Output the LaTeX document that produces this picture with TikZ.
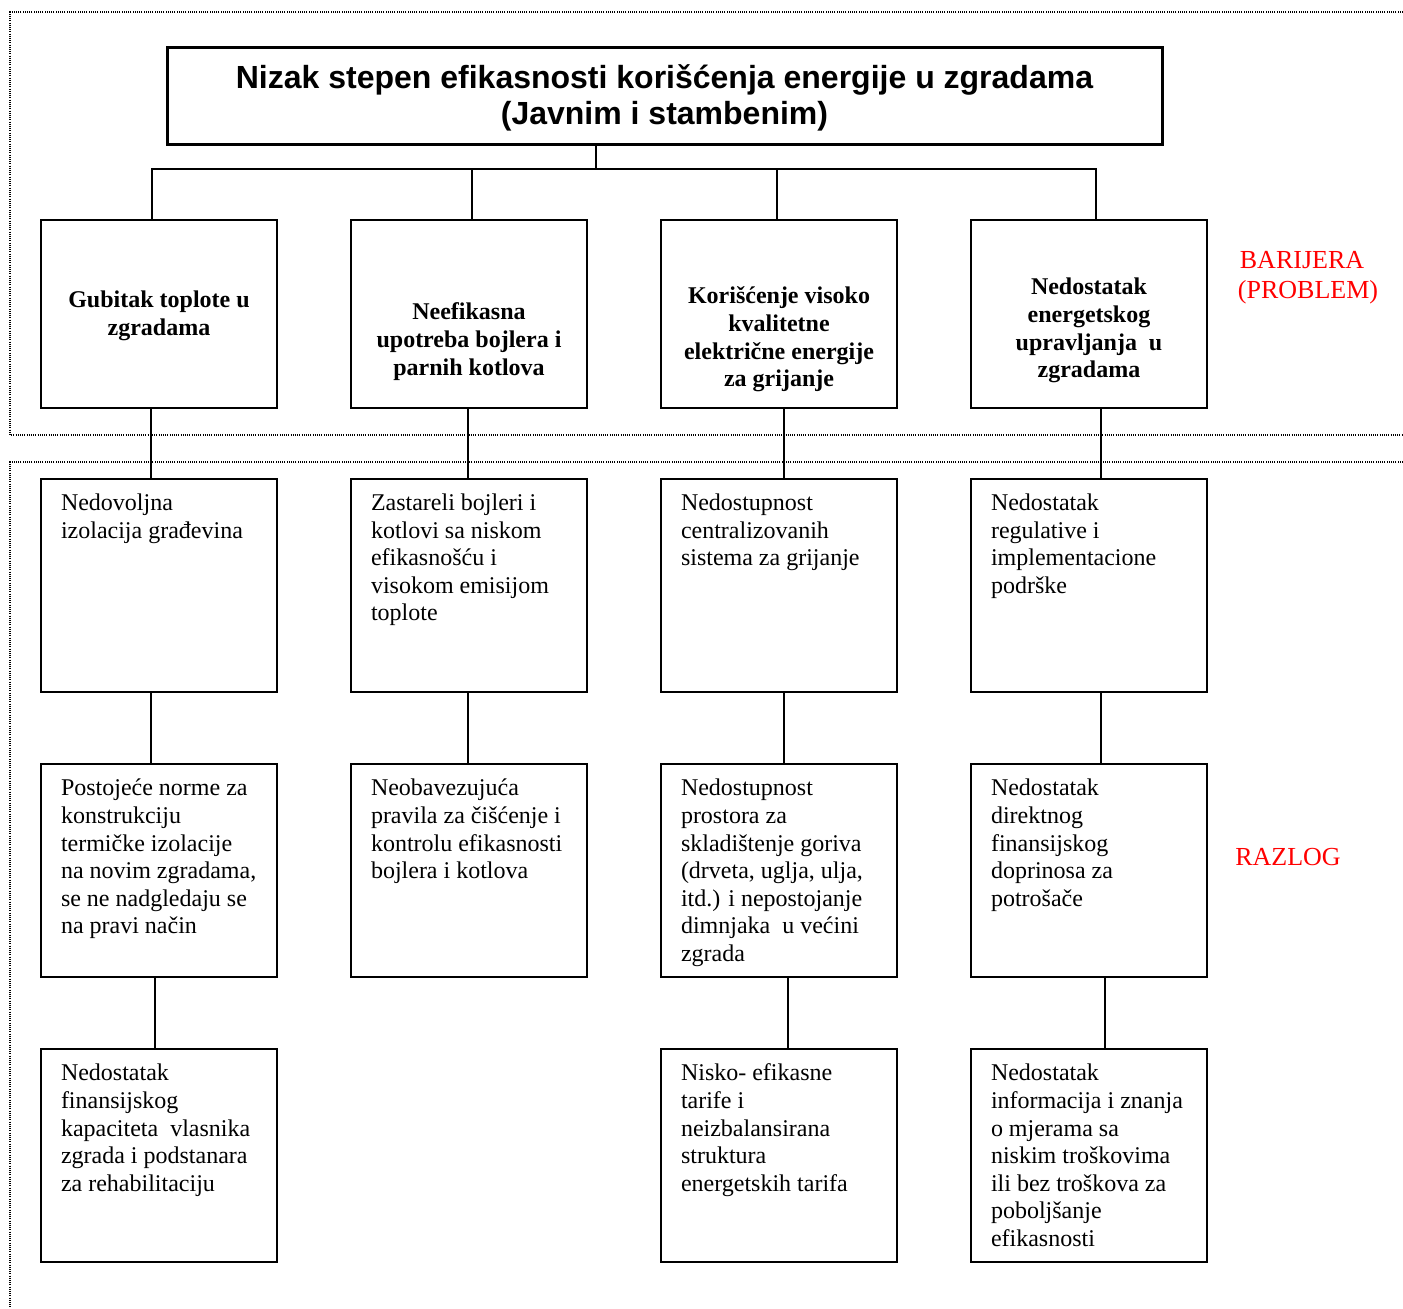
\documentclass[tikz,border=0pt]{standalone}
\usepackage{fontspec}
\setmainfont{Liberation Serif}
\newfontfamily\arialfont{Liberation Sans}
\usepackage{tikz}
\usetikzlibrary{positioning}

\tikzset{
    frame/.style={line width=0.8pt, dash pattern=on 0.5pt off 0.6pt},
    link/.style={line width=0.7pt},
    barbox/.style={draw, line width=1pt, inner sep=0pt},
    razbox/.style={draw, line width=1pt, inner xsep=0pt, inner ysep=6.3pt},
    redlabel/.style={text=red, align=center, font=\fontsize{13}{15}\selectfont}
}

\begin{document}
\begin{tikzpicture}[x=0.5pt, y=-0.5pt]
    \useasboundingbox (0,0) rectangle (1403,1308);

    % dotted frames
    \draw[frame] (1403,12) -- (10,12) -- (10,435) -- (1403,435);
    \draw[frame] (1403,462) -- (10,462) -- (10,1308);

    % main problem
    \node[draw, line width=1.5pt, minimum width=497.5pt, minimum height=48.5pt,
          font=\arialfont\bfseries\fontsize{16}{18}\selectfont] (problem) at (664.5,95.5)
        {\raisebox{-1.75pt}[\height][\depth]{\begin{tabular}{@{}c@{}}Nizak stepen efikasnosti korišćenja energije u zgradama\\(Javnim i stambenim)\end{tabular}}};

    % barriers
    \foreach \n/\x/\pad/\t in {bar1/159/34.3pt/{Gubitak toplote u\\zgradama},
                               bar2/469/40.3pt/{Neefikasna\\upotreba bojlera i\\parnih kotlova},
                               bar3/779/32.3pt/{Korišćenje visoko\\kvalitetne\\električne energije\\za grijanje},
                               bar4/1089/27.8pt/{Nedostatak\\energetskog\\upravljanja~~u\\zgradama}} {
        \node[barbox] (\n) at (\x,314)
            {\parbox[c][94pt][t]{118pt}{\fontsize{12}{13.8}\selectfont\centering\bfseries\vspace*{\pad}\strut\t}};
    }

    % reasons
    \foreach \n/\x/\y/\t in {raz2a/159/585/{Nedovoljna\\izolacija građevina},
                             raz2b/469/585/{Zastareli bojleri i\\kotlovi sa niskom\\efikasnošću i\\visokom emisijom\\toplote},
                             raz2c/779/585/{Nedostupnost\\centralizovanih\\sistema za grijanje},
                             raz2d/1089/585/{Nedostatak\\regulative i\\implementacione\\podrške},
                             raz3a/159/870.5/{Postojeće norme za\\konstrukciju\\termičke izolacije\\na novim zgradama,\\se ne nadgledaju se\\na pravi način},
                             raz3b/469/870.5/{Neobavezujuća\\pravila za čišćenje i\\kontrolu efikasnosti\\bojlera i kotlova},
                             raz3c/779/870.5/{Nedostupnost\\prostora za\\skladištenje goriva\\(drveta, uglja, ulja,\\itd.) i nepostojanje\\dimnjaka~~u većini\\zgrada},
                             raz3d/1089/870.5/{Nedostatak\\direktnog\\finansijskog\\doprinosa za\\potrošače},
                             raz4a/159/1155.5/{Nedostatak\\finansijskog\\kapaciteta~~vlasnika\\zgrada i podstanara\\za rehabilitaciju},
                             raz4c/779/1155.5/{Nisko- efikasne\\tarife i\\neizbalansirana\\struktura\\energetskih tarifa},
                             raz4d/1089/1155.5/{Nedostatak\\informacija i znanja\\o mjerama sa\\niskim troškovima\\ili bez troškova za\\poboljšanje\\efikasnosti}} {
        \node[razbox] (\n) at (\x,\y)
            {\parbox[c][93.9pt][t]{118pt}{\fontsize{12}{13.8}\selectfont\raggedright\leftskip=10pt\strut\t}};
    }

    % tree from the main problem
    \coordinate (bus) at (596,169);
    \draw[link] ([xshift=-34.25pt]problem.south) -- (bus);
    \foreach \n/\dx in {bar1/-3.5pt, bar2/1.5pt, bar3/-1pt, bar4/3.5pt}
        \draw[link] ([xshift=\dx]\n.north) |- (bus);

    % columns
    \foreach \a/\b/\dx in {bar1/raz2a/-4pt, raz2a/raz3a/-4pt, raz3a/raz4a/-2pt,
                           bar2/raz2b/-0.5pt, raz2b/raz3b/-0.5pt,
                           bar3/raz2c/2.5pt, raz2c/raz3c/2.5pt, raz3c/raz4c/4.5pt,
                           bar4/raz2d/6pt, raz2d/raz3d/6pt, raz3d/raz4d/8pt}
        \draw[link] ([xshift=\dx]\a.south) -- ([xshift=\dx]\b.north);

    % side labels
    \node[redlabel] (barijera) at (1308,278) {BARIJERA\hspace*{6pt}\\(PROBLEM)};
    \node[redlabel] (razlog) at (1288,857) {RAZLOG};
\end{tikzpicture}
\end{document}
